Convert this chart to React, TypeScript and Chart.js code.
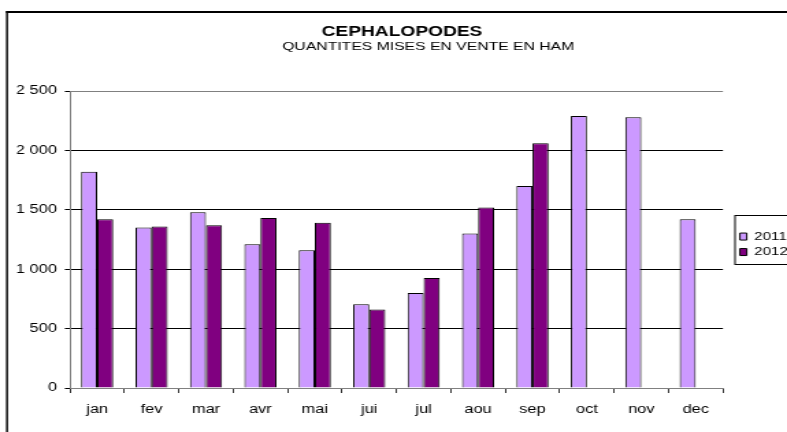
import React, { useEffect, useRef } from 'react';
import { Chart, registerables } from 'chart.js';

Chart.register(...registerables);
Chart.defaults.font.family = "'Liberation Sans', Arial, sans-serif";
Chart.defaults.color = '#000';

const months = ['jan', 'fev', 'mar', 'avr', 'mai', 'jui', 'jul', 'aou', 'sep', 'oct', 'nov', 'dec'];
const seriesNames = ['2011', '2012'];
const series2011 = [1820, 1350, 1480, 1210, 1160, 705, 800, 1300, 1700, 2290, 2280, 1420];
const series2012 = [1420, 1360, 1370, 1430, 1390, 660, 925, 1520, 2060, null, null, null];
const yTickValues = [0, 500, 1000, 1500, 2000, 2500];
const yTickLabels = ['0', '500', '1 000', '1 500', '2 000', '2 500'];
const titleText = 'CEPHALOPODES';
const subtitleText = '            QUANTITES MISES EN VENTE EN HAM';

// internal canvas is drawn narrower and stretched horizontally, like the reference picture
const INNER_W = 575;
const OUTER_W = 787;
const H = 432;

const framePlugin = {
  id: 'frames',
  afterDraw(chart: any) {
    const ctx = chart.ctx;
    ctx.save();
    ctx.fillStyle = '#000';
    ctx.fillRect(4.4, 11, chart.width, 2);
    ctx.fillRect(4.4, 11, 1.46, chart.height);
    const lg = chart.legend;
    const hb = lg && lg.legendHitBoxes;
    if (hb && hb.length) {
      const last = hb[hb.length - 1];
      const l = hb[0].left - 3.6;
      const t = hb[0].top - 16;
      const b = last.top + last.height + 6.5;
      ctx.strokeStyle = '#000';
      ctx.lineWidth = 1;
      ctx.strokeRect(l, Math.round(t) + 0.5, chart.width, Math.round(b - t));
    }
    ctx.restore();
  },
};

export default function App() {
  const ref = useRef<HTMLCanvasElement>(null);
  useEffect(() => {
    const chart = new Chart(ref.current as HTMLCanvasElement, {
      type: 'bar',
      data: {
        labels: months,
        datasets: [
          {
            label: seriesNames[0],
            data: series2011,
            backgroundColor: '#CC99FF',
            borderColor: '#000',
            borderWidth: 1,
            categoryPercentage: 0.59,
            barPercentage: 1,
          },
          {
            label: seriesNames[1],
            data: series2012 as any,
            backgroundColor: '#800080',
            borderColor: '#000',
            borderWidth: 1,
            categoryPercentage: 0.59,
            barPercentage: 1,
          },
        ],
      },
      options: {
        responsive: false,
        animation: false,
        events: [],
        layout: { padding: { left: 12.4, right: 0, top: 0, bottom: 0 } },
        scales: {
          x: {
            grid: { display: true, drawOnChartArea: false, drawTicks: true, tickLength: 5, color: '#333', offset: true },
            border: { color: '#808080' },
            ticks: { padding: 9.8, color: '#000', font: { size: 12 }, maxRotation: 0, autoSkip: false },
            afterFit: (s: any) => { s.height = 44; },
          },
          y: {
            min: 0,
            max: 2500,
            afterBuildTicks: (s: any) => { s.ticks = yTickValues.map((v) => ({ value: v })); },
            ticks: {
              padding: 5.8,
              color: '#000',
              font: { size: 12 },
              callback: (v: any) => yTickLabels[yTickValues.indexOf(Number(v))],
            },
            grid: {
              color: (c: any) => (c.tick && (c.tick.value === 2500 || c.tick.value === 0) ? '#808080' : '#000'),
              tickColor: '#000',
              tickLength: 3.7,
              lineWidth: 1,
            },
            border: { color: '#808080', width: 1 },
            afterFit: (s: any) => { s.width = 38.7; },
          },
          gap: {
            type: 'linear',
            position: 'right',
            display: false,
            afterFit: (s: any) => { s.width = 7.9; },
          },
        } as any,
        plugins: {
          tooltip: { enabled: false },
          title: {
            display: true,
            text: titleText,
            color: '#000',
            font: { size: 14, weight: 'bold' },
            padding: { top: 23.6, bottom: 0 },
          },
          subtitle: {
            display: true,
            text: subtitleText,
            color: '#000',
            font: { size: 11.5, weight: 'normal' },
            padding: { top: 0, bottom: 36.8 },
          },
          legend: {
            position: 'right',
            fullSize: false,
            align: 'center',
            maxWidth: 38.9,
            title: { display: true, text: '', font: { size: 8 }, padding: 0 },
            labels: { boxWidth: 5, boxHeight: 7, padding: 4.5, color: '#000', font: { size: 11 } },
          } as any,
        },
      },
      plugins: [framePlugin],
    });
    return () => chart.destroy();
  }, []);

  return (
    <div style={{ position: 'absolute', left: 0, top: 0, width: OUTER_W, height: H, overflow: 'hidden', background: '#fff' }}>
      <canvas
        ref={ref}
        width={INNER_W}
        height={H}
        style={{ width: OUTER_W + 'px', height: H + 'px', display: 'block' }}
      />
    </div>
  );
}
